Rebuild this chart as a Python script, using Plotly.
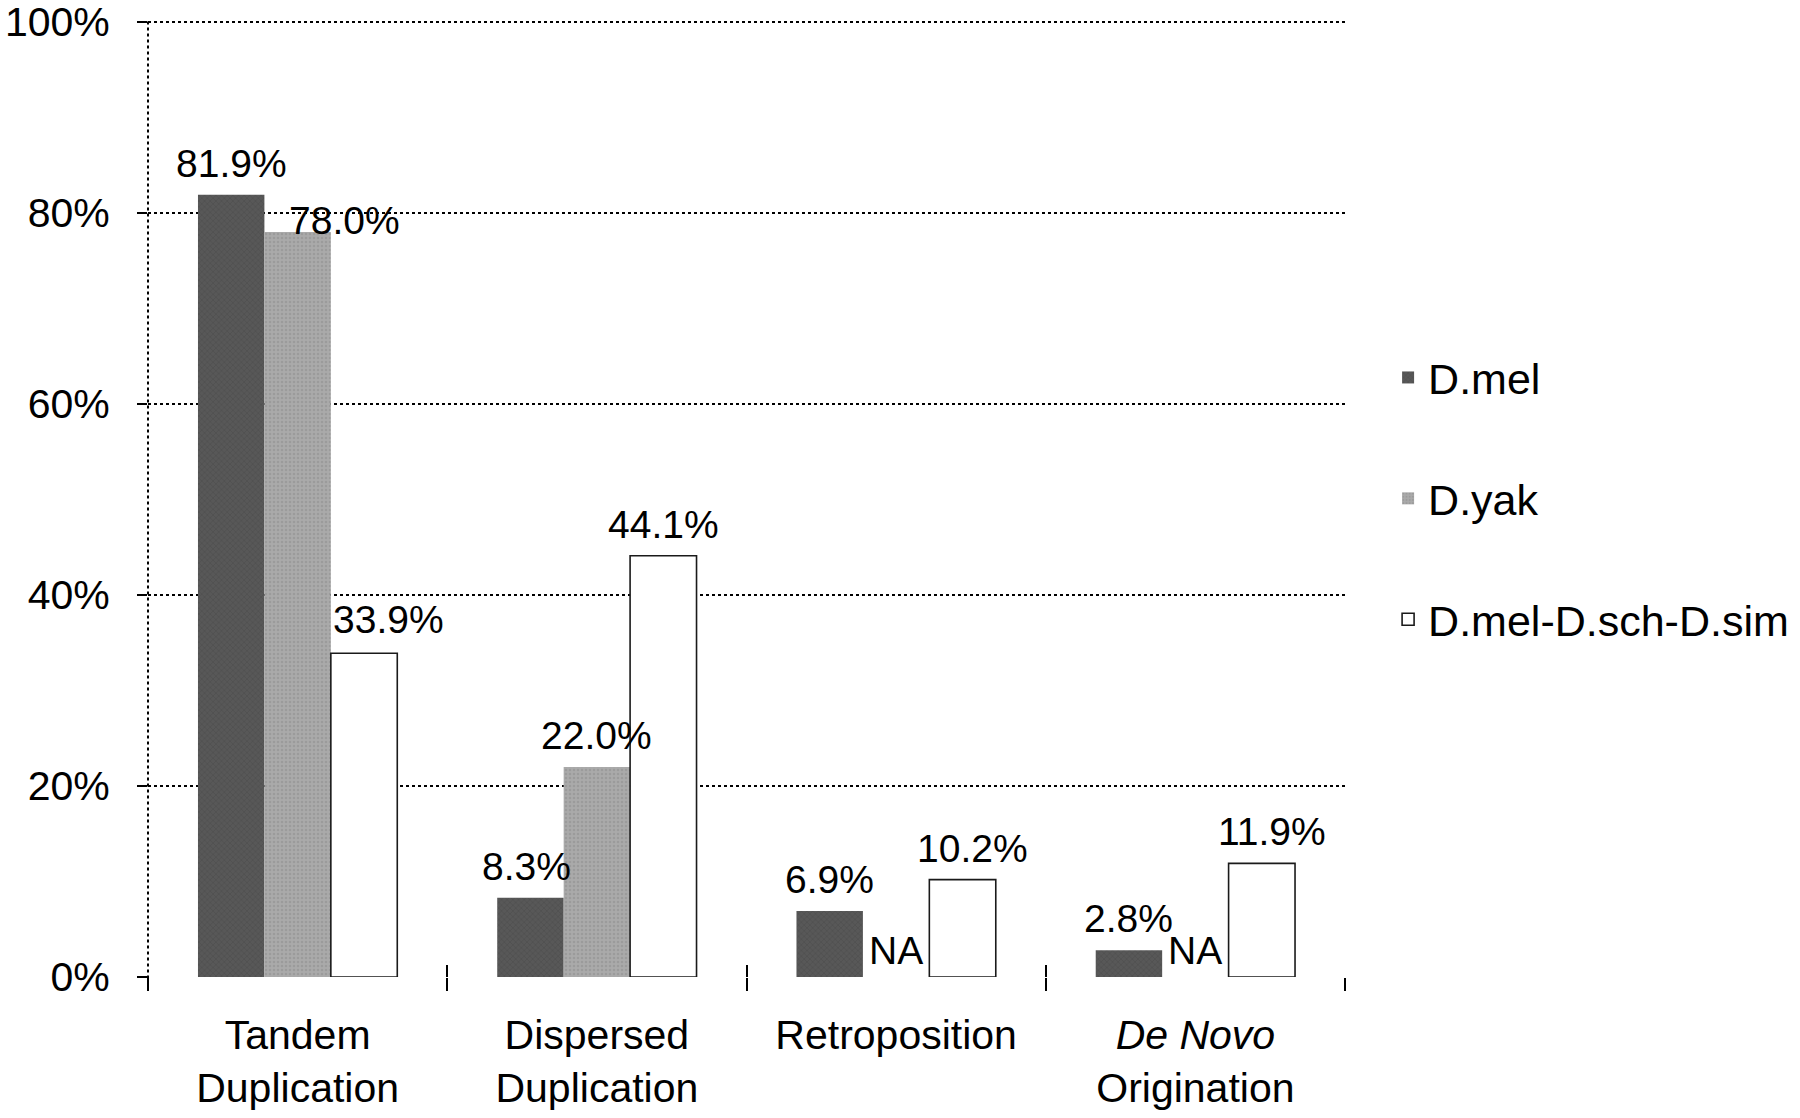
import plotly.graph_objects as go

# ---------------- data ----------------
categories = ["Tandem<br>Duplication", "Dispersed<br>Duplication", "Retroposition",
              "<i>De Novo</i><br>Origination"]
series_names = ["D.mel", "D.yak", "D.mel-D.sch-D.sim"]
d_mel = [0.819, 0.083, 0.069, 0.028]
d_yak = [0.780, 0.220, None, None]
d_mel_sch_sim = [0.339, 0.441, 0.102, 0.119]
y_tick_vals = [0, 0.2, 0.4, 0.6, 0.8, 1.0]
y_tick_text = ["0%", "20%", "40%", "60%", "80%", "100%"]

series_values = [d_mel, d_yak, d_mel_sch_sim]

# ---------------- style ----------------
FONT = "Liberation Sans, Arial, sans-serif"
FS_LABEL = 39
FS_YTICK = 41
FS_CAT = 41
FS_LEG = 43
W, H = 1800, 1118
M_L, M_R, M_T, M_B = 148, 455, 20, 141
BARGAP = 0.334
plot_w = W - M_L - M_R
cat_w = plot_w / len(categories)
bar_w = cat_w * (1 - BARGAP) / 3

styles = [
    dict(color="#585858", line=dict(width=0),
         pattern=dict(shape="x", fgcolor="#3f3f3f", size=4, solidity=0.25)),
    dict(color="#aaaaaa", line=dict(width=0),
         pattern=dict(shape=".", fgcolor="#8c8c8c", size=4, solidity=0.35)),
    dict(color="#ffffff", line=dict(color="#1a1a1a", width=1.6)),
]

# manual label nudges (px) like in the original figure: (series, category) -> (dx, dy)
nudges = {(1, 0): (47, -20), (2, 0): (24, 2), (0, 1): (-4, 0),
          (2, 2): (10, 0), (2, 3): (10, 0)}

fig = go.Figure()
for i, (name, vals) in enumerate(zip(series_names, series_values)):
    fig.add_trace(go.Bar(
        name=name, x=categories, y=vals, marker=styles[i],
        legendgroup=name, hoverinfo="skip",
    ))

annotations = []
for i, vals in enumerate(series_values):
    for j, v in enumerate(vals):
        dx, dy = nudges.get((i, j), (0, 0))
        text = "NA" if v is None else f"{v*100:.1f}%"
        annotations.append(dict(
            x=categories[j], y=0 if v is None else v, xref="x", yref="y",
            text=text, showarrow=False, yanchor="bottom", xanchor="center",
            xshift=(i - 1) * bar_w + dx, yshift=(3 if v is None else 8) + dy,
            font=dict(family=FONT, size=FS_LABEL, color="black"),
        ))

fig.update_layout(
    width=W, height=H,
    margin=dict(l=M_L, r=M_R, t=M_T, b=M_B, autoexpand=False),
    paper_bgcolor="white", plot_bgcolor="white",
    barmode="group", bargap=BARGAP, bargroupgap=0,
    font=dict(family=FONT, size=FS_LABEL, color="black"),
    annotations=annotations,
    legend=dict(x=1.036, xanchor="left", y=0.5, yanchor="middle",
                font=dict(family=FONT, size=FS_LEG, color="black"),
                tracegroupgap=62, bgcolor="rgba(0,0,0,0)"),
    xaxis=dict(type="category", range=[-0.5, 3.5], showgrid=False, zeroline=False,
               showline=False, tickson="boundaries", ticks="outside", ticklen=13,
               tickwidth=2, tickcolor="black", ticklabelstandoff=30, automargin=False,
               tickfont=dict(family=FONT, size=FS_CAT, color="black")),
    xaxis2=dict(overlaying="x", anchor="y", type="linear", range=[-0.5, 3.5],
                tickvals=[-0.5, 0.5, 1.5, 2.5, 3.5], ticks="inside", ticklen=12,
                tickwidth=2, tickcolor="black", showticklabels=False, automargin=False,
                showgrid=False, zeroline=False, showline=False),
    yaxis=dict(range=[0, 1.002], tickvals=y_tick_vals, ticktext=y_tick_text,
               showgrid=True, gridcolor="black", griddash="dot", gridwidth=2,
               zeroline=False, showline=False, ticks="outside", ticklen=10,
               tickwidth=2, tickcolor="black", ticklabelstandoff=19, automargin=False,
               ticklabeloverflow="allow",
               tickfont=dict(family=FONT, size=FS_YTICK, color="black")),
    shapes=[dict(type="line", xref="x domain", yref="y domain", x0=0, x1=0,
                 y0=-0.014, y1=1, line=dict(color="black", width=2, dash="dot"))],
)
# invisible trace so the overlay axis (crossing tick marks) is drawn
fig.add_trace(go.Scatter(x=[-0.5, 3.5], y=[None, None], xaxis="x2", yaxis="y",
                         showlegend=False, hoverinfo="skip", mode="lines"))

fig.write_html("out.html")
